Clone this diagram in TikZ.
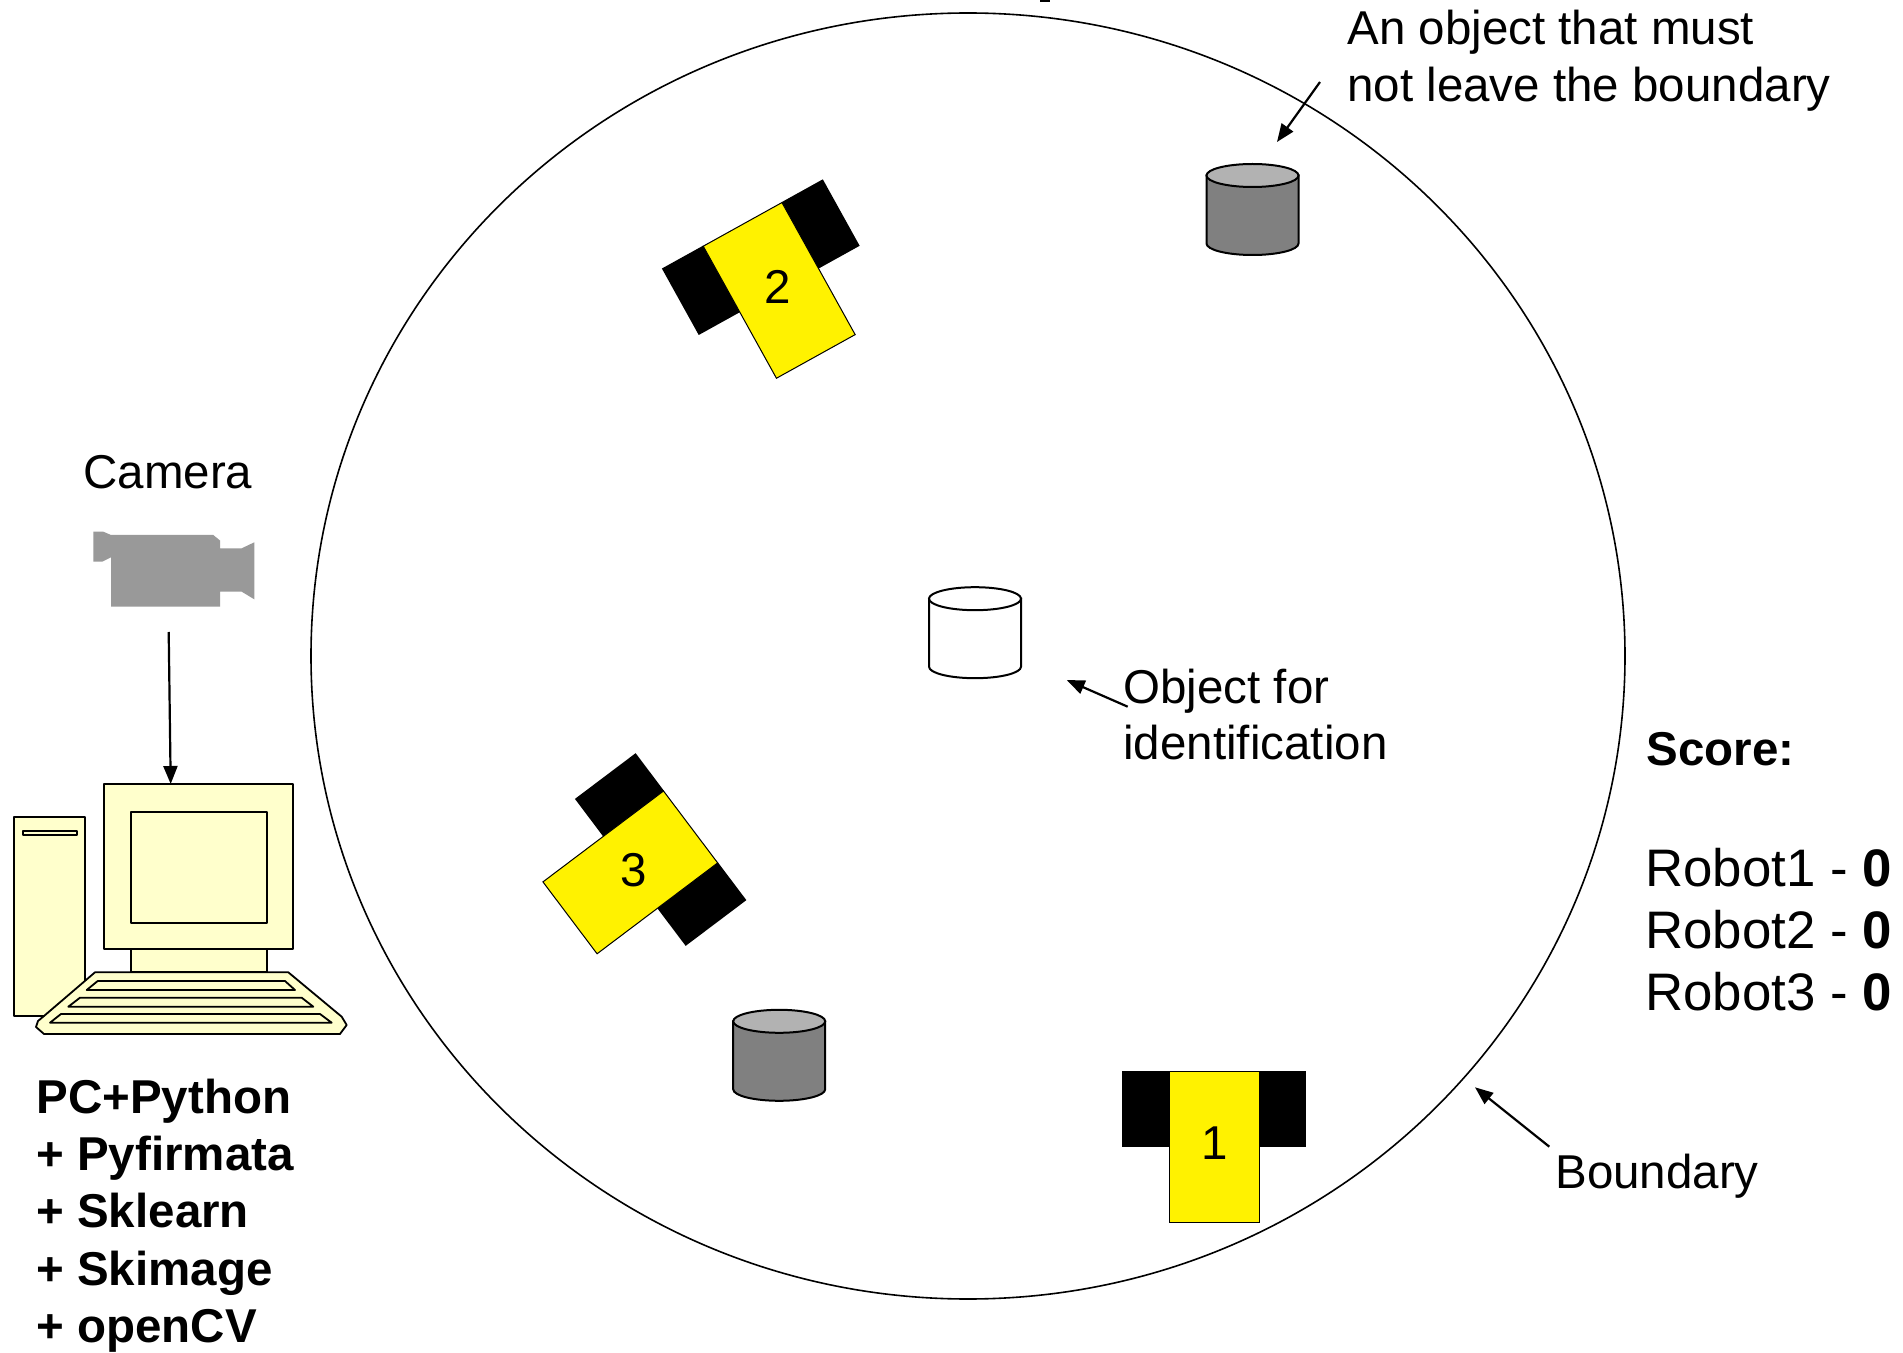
\documentclass[tikz,border=0pt]{standalone}
\usepackage{fontspec}
\setmainfont{Liberation Sans}
\usetikzlibrary{arrows.meta}

\definecolor{pcfill}{HTML}{FFFFCC}
\definecolor{camgray}{HTML}{999999}
\definecolor{drumtop}{HTML}{B2B2B2}
\definecolor{drumside}{HTML}{808080}

\tikzset{
  lbl/.style={anchor=base west, inner sep=0pt, font=\fontsize{23.75pt}{28.5pt}\selectfont},
  scoreline/.style={anchor=base west, inner sep=0pt, font=\fontsize{26.4pt}{31pt}\selectfont},
  pctxt/.style={anchor=base west, inner sep=0pt, font=\fontsize{23.75pt}{28.5pt}\selectfont\bfseries},
  pointer/.style={-{Triangle[length=9pt,width=7pt]}, line width=1.1pt},
  pcpart/.style={draw, fill=pcfill, line width=0.9pt, line join=round},
  chassis/.style={draw, fill=yellow, line width=0.5pt},
  % a robot seen from above: yellow body, black wheels at the front half
  pics/robot/.style={code={
    \fill[black] (-92,-76) rectangle (-45,0);
    \fill[black] (45,-76) rectangle (92,0);
    \draw[chassis] (-45,-75.5) rectangle (45,75.5);
    \node[inner sep=0pt, font=\fontsize{23.75pt}{28.5pt}\selectfont] (-num) at (0,-4) {#1};
  }},
  % a cylinder seen from the side
  pics/drum/.style 2 args={code={
    \draw[line width=1pt, fill=#2] (-46,0) -- (-46,68)
      arc[start angle=180, end angle=360, x radius=23pt, y radius=5.75pt]
      -- (46,0) -- cycle;
    \draw[line width=1pt, fill=#1] (0,0) ellipse[x radius=23pt, y radius=5.75pt];
  }},
}

\begin{document}
\begin{tikzpicture}[x=0.5pt, y=-0.5pt]
\useasboundingbox (0,0) rectangle (1903,1353);
\fill[white] (0,0) rectangle (1903,1353);

% fragment of a heading above the arena
\fill[black] (1040,0) rectangle (1050,2);

% arena boundary
\draw[line width=0.8pt] (968,656) ellipse[x radius=328.5pt, y radius=321.5pt];

% objects inside the arena
\pic (keep) at (1252.5,175.5) {drum={drumtop}{drumside}};
\pic (keepb) at (779.2,1021.3) {drum={drumtop}{drumside}};
\pic (target) at (975,598.7) {drum={white}{white}};

% robots
\pic (r1) at (1214.2,1147.2) {robot=1};
\pic[rotate=29] (r2) at (779.2,290.4) {robot=2};
\pic[rotate=-53] (r3) at (630.3,872.4) {robot=3};

% camera
\fill[camgray] (93.3,531.7) -- (103.3,531.7) -- (111,535) -- (213.3,535) -- (220,540.5)
  -- (220,548.3) -- (241.7,548.3) -- (254.3,542.3) -- (254.3,599.3) -- (241.7,591.7)
  -- (220,591.7) -- (220,606.7) -- (111,606.7) -- (111,557.3) -- (102.3,561.7)
  -- (93.3,561.7) -- cycle;
\node[lbl] (camlabel) at (83,489) {Camera};

% computer
\draw[pcpart] (14,817.3) rectangle (85.3,1015.7);
\draw[pcpart] (22.7,830.7) rectangle (76.7,835.3);
\draw[pcpart] (131,949.3) rectangle (266.7,972.3);
\draw[pcpart] (104.3,784.3) rectangle (293.3,949.3);
\draw[pcpart] (131,811.7) rectangle (266.7,922.7);
\draw[pcpart] (95,972.3) -- (288.3,972.3) -- (341.7,1016.7) -- (346.7,1025) -- (340,1034)
  -- (44,1034) -- (36,1027) -- (38,1021) -- (44,1016) -- cycle;
\draw[pcpart] (97.7,981) -- (285,981) -- (295,990) -- (86.7,990) -- cycle;
\draw[pcpart] (80,997.7) -- (301.7,997.7) -- (313.3,1006.7) -- (68.3,1006.7) -- cycle;
\draw[pcpart] (61,1014) -- (320,1014) -- (331.7,1022.7) -- (50,1022.7) -- cycle;

\coordinate (camfoot) at (168.7,632);
\coordinate (montop) at (170.7,784);
\draw[pointer] (camfoot) -- (montop);

\node[pctxt] (pc1) at (36,1113) {PC+Python};
\node[pctxt] (pc2) at (36,1170) {+ Pyfirmata};
\node[pctxt] (pc3) at (36,1227) {+ Sklearn};
\node[pctxt] (pc4) at (36,1285) {+ Skimage};
\node[pctxt] (pc5) at (36,1342) {+ openCV};

% annotations
\node[lbl] (keep1) at (1347,45) {An object that must};
\node[lbl] (keep2) at (1347,102) {not leave the boundary};
\coordinate (keeptail) at (1320,82);
\coordinate (keeptip) at (1277,142);
\draw[pointer] (keeptail) -- (keeptip);

\node[lbl] (obj1) at (1123,704) {Object for};
\node[lbl] (obj2) at (1123,760) {identification};
\coordinate (objtail) at (1127.7,706.7);
\coordinate (objtip) at (1066.7,680);
\draw[pointer] (objtail) -- (objtip);

\node[lbl] (bnd) at (1555,1188) {Boundary};
\coordinate (bndtail) at (1549.3,1146.7);
\coordinate (bndtip) at (1475,1087.3);
\draw[pointer] (bndtail) -- (bndtip);

% score board
\node[pctxt] (score) at (1646,765) {Score:};
\node[scoreline] (s1) at (1645,886) {Robot1 - \textbf{0}};
\node[scoreline] (s2) at (1645,948) {Robot2 - \textbf{0}};
\node[scoreline] (s3) at (1645,1010) {Robot3 - \textbf{0}};
\end{tikzpicture}
\end{document}
